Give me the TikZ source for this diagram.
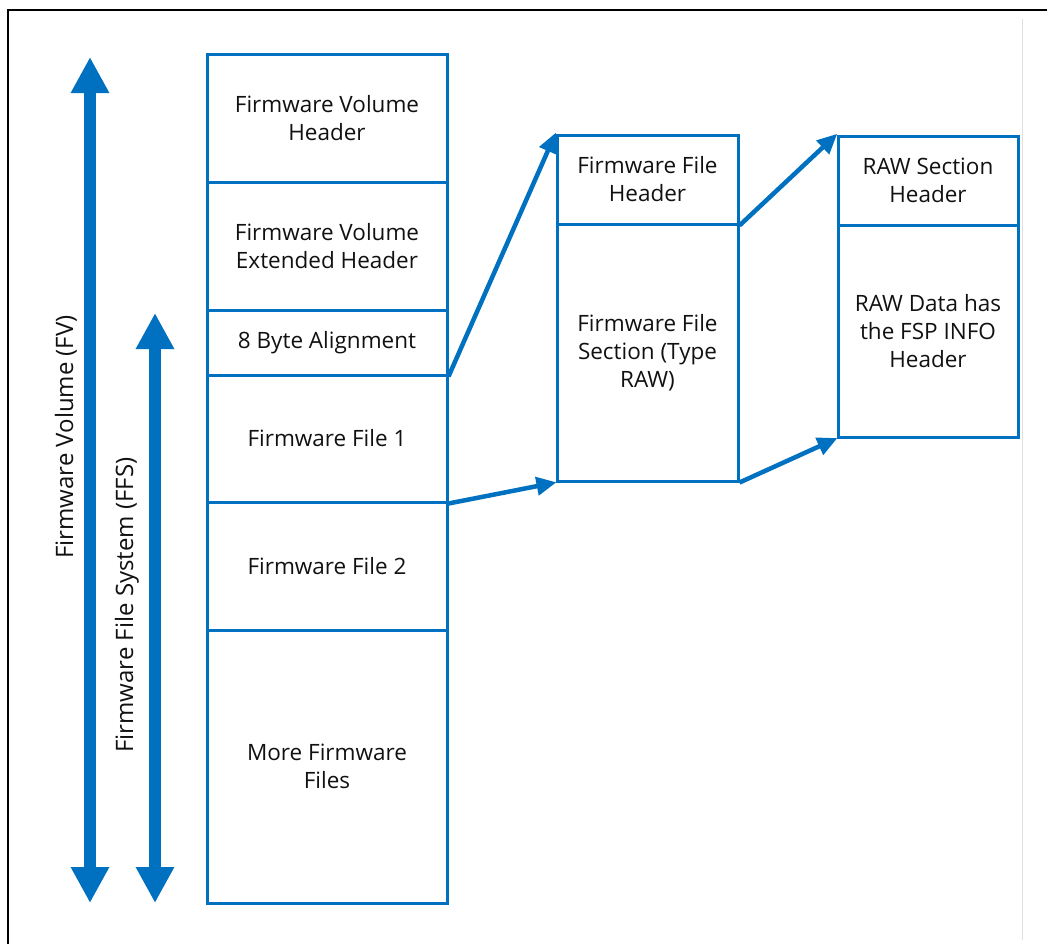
\documentclass[tikz,border=0pt]{standalone}
\usepackage{fontspec}
\setmainfont{Open Sans}
\usetikzlibrary{arrows.meta}
\definecolor{fsblue}{HTML}{0070C0}
\definecolor{txt}{HTML}{111111}
\tikzset{
  cell/.style={draw=fsblue, line width=3pt, minimum width=#1, inner sep=0pt, align=center, text=txt, font=\fontsize{22.5}{28}\selectfont},
  link/.style={draw=fsblue, line width=4.5pt, -{Triangle[width=18pt,length=20pt]}, shorten >=-1pt},
  bigarrow/.style={draw=fsblue, line width=12pt, {Triangle[width=36pt,length=36pt]}-{Triangle[width=36pt,length=36pt]}},
  sidelabel/.style={rotate=90, text=txt, font=\fontsize{24}{28}\selectfont}
}
\begin{document}
\begin{tikzpicture}[x=1pt,y=-1pt]
\useasboundingbox (0,0) rectangle (1047,943);
\begin{scope}
\clip (0,0) rectangle (1047,943);
\draw[black, line width=2.5pt] (8,10) rectangle (1070,970);
\draw[black!12, line width=1pt] (1022,19) -- (1022,940);
\end{scope}
% main column
\node[cell=240pt, minimum height=128pt] (fvh) at (327,118) {Firmware Volume\\Header};
\node[cell=240pt, minimum height=128pt] (fveh) at (327,246) {Firmware Volume\\Extended Header};
\node[cell=240pt, minimum height=65pt] (align) at (327,342.5) {8 Byte Alignment};
\node[cell=240pt, minimum height=127pt] (ff1) at (327,438.5) {Firmware File 1};
\node[cell=240pt, minimum height=128pt] (ff2) at (327,566) {Firmware File 2};
\node[cell=240pt, minimum height=273pt] (more) at (327,766.5) {More Firmware\\Files};
% middle column
\node[cell=181pt, minimum height=89pt] (ffh) at (647.5,179.5) {Firmware File\\Header};
\node[cell=181pt, minimum height=257pt] (ffs) at (647.5,352.5) {Firmware File\\Section (Type\\RAW)};
% right column
\node[cell=180pt, minimum height=89pt] (rsh) at (928,180.5) {RAW Section\\Header};
\node[cell=180pt, minimum height=212pt] (rd) at (928,331) {RAW Data has\\the FSP INFO\\Header};
% connectors
\draw[link] (align.south east) -- (ffh.north west);
\draw[link] (ff1.south east) -- (ffs.south west);
\draw[link] (ffh.south east) -- (rsh.north west);
\draw[link] (ffs.south east) -- (rd.south west);
% big arrows
\coordinate (fvtop) at (90,57);
\coordinate (fvbot) at (90,903);
\coordinate (ffstop) at (155,313);
\coordinate (ffsbot) at (155,903);
\draw[bigarrow] (fvtop) -- (fvbot);
\draw[bigarrow] (ffstop) -- (ffsbot);
\node[sidelabel] (fvlabel) at (66,437) {Firmware Volume (FV)};
\node[sidelabel] (ffslabel) at (127,605) {Firmware File System (FFS)};
\end{tikzpicture}
\end{document}
